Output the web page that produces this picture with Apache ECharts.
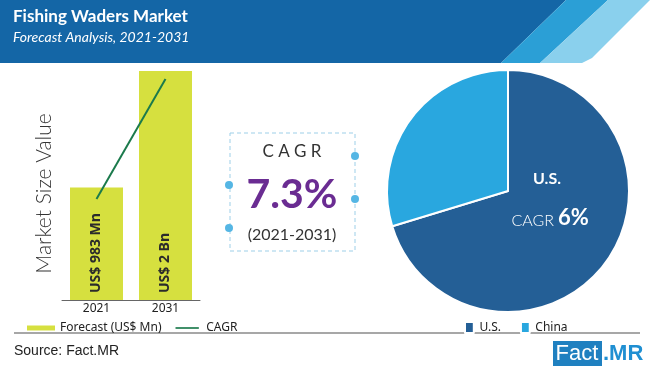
<!DOCTYPE html>
<html>
<head>
<meta charset="utf-8">
<script src="https://cdn.jsdelivr.net/npm/echarts@6/dist/echarts.min.js"></script>
<style>html,body{margin:0;padding:0;background:#fff;}#c{width:650px;height:380px;}</style>
</head>
<body>
<div id="c"></div>
<script>
// ---- data ----
var years = ['2021', '2031'];
var forecast = [983, 2000];
var barLabels = ['US$ 983 Mn', 'US$ 2 Bn'];
var cagrLine = [882, 1930];
var regions = ['U.S.', 'China'];
var regionShare = [70.3, 29.7];
var titleText = 'Fishing Waders Market';
var subtitleText = 'Forecast Analysis, 2021-2031';
var cagrValue = '7.3%';
var cagrPeriod = '(2021-2031)';
var usLabel = 'U.S.';
var usCagr = '6%';

var chart = echarts.init(document.getElementById('c'), null, {renderer: 'canvas'});
var F = 'Lato, "Open Sans", sans-serif';

var option = {
  backgroundColor: '#ffffff',
  animation: false,
  grid: {left: 62, right: 450, top: 71, bottom: 80},
  xAxis: {
    type: 'category', data: years,
    axisLine: {show: true, lineStyle: {color: '#666', width: 1}},
    axisTick: {show: false},
    axisLabel: {color: '#222', fontSize: 12, margin: 3, fontFamily: 'Noto Sans'}
  },
  yAxis: {
    type: 'value', min: 0, max: 2000,
    name: 'Market Size Value', nameLocation: 'middle', nameRotate: 90, nameGap: 7,
    nameTextStyle: {fontSize: 21, color: '#333', fontFamily: F, fontWeight: 300, padding: [0, 16, 0, 0]},
    axisLine: {show: false}, axisTick: {show: false}, axisLabel: {show: false}, splitLine: {show: false}
  },
  legend: [{
    left: 22, top: 317, itemWidth: 28, itemHeight: 5, itemGap: 14,
    textStyle: {fontSize: 12, color: '#222', fontFamily: 'Noto Sans'},
    data: [
      {name: 'Forecast (US$ Mn)', icon: 'rect'},
      {name: 'CAGR', icon: 'path://M0,0 M0,2 L28,2 L28,4 L0,4 Z M0,6'}
    ]
  }, {
    left: 459, top: 316, itemWidth: 10, itemHeight: 11, itemGap: 19,
    textStyle: {fontSize: 12, color: '#222', fontFamily: 'Noto Sans'},
    data: [{name: 'U.S.', icon: 'path://M0,0 L8,0 L8,10 L0,10 Z'}, {name: 'China', icon: 'path://M0,0 L8,0 L8,10 L0,10 Z'}]
  }],
  series: [{
    name: 'Forecast (US$ Mn)', type: 'bar', barWidth: 53,
    data: forecast.map(function (v, i) {
      return {value: v, label: {formatter: barLabels[i]}};
    }),
    itemStyle: {color: '#d6e03f'},
    label: {
      show: true, position: 'insideBottom', rotate: 90, align: 'left', verticalAlign: 'middle',
      distance: 7, fontSize: 14, fontWeight: 'bold', color: '#2b2b2b', fontFamily: 'Open Sans'
    }
  }, {
    name: 'CAGR', type: 'line', data: cagrLine, symbol: 'none',
    lineStyle: {color: '#1b7a4c', width: 2}, itemStyle: {color: '#1b7a4c'}
  }, {
    name: 'Region', type: 'pie', center: [508, 191], radius: [0, 121],
    startAngle: 90, clockwise: true,
    label: {show: false}, labelLine: {show: false},
    itemStyle: {borderColor: '#fff', borderWidth: 2},
    data: regions.map(function (r, i) {
      return {name: r, value: regionShare[i], itemStyle: {color: i === 0 ? '#245f96' : '#29a7df'}};
    })
  }],
  graphic: [
    // header band
    {type: 'polygon', z: 1, shape: {points: [[0,0],[566,0],[501,63],[0,63]]}, style: {fill: '#1466a6'}},
    {type: 'polygon', z: 1, shape: {points: [[566,0],[608,0],[540,63],[501,63]]}, style: {fill: '#2b9fd6'}},
    {type: 'polygon', z: 1, shape: {points: [[608,0],[650,0],[592,58],[582,63],[540,63]]}, style: {fill: '#8ad0ed'}},
    {type: 'text', z: 2, left: 13, top: 8, style: {text: titleText, fill: '#fff', font: 'bold 17px ' + F}},
    {type: 'text', z: 2, left: 13, top: 30, style: {text: subtitleText, fill: '#fff', font: 'italic 14px ' + F}},
    // CAGR box
    {type: 'rect', z: 2, shape: {x: 230, y: 133, width: 125, height: 118},
      style: {fill: 'none', stroke: '#9dcfe8', lineWidth: 1, lineDash: [4, 3]}},
    {type: 'circle', z: 3, shape: {cx: 355, cy: 156, r: 4}, style: {fill: '#55b6e4'}},
    {type: 'circle', z: 3, shape: {cx: 229, cy: 185, r: 4}, style: {fill: '#55b6e4'}},
    {type: 'circle', z: 3, shape: {cx: 355, cy: 199, r: 4}, style: {fill: '#55b6e4'}},
    {type: 'circle', z: 3, shape: {cx: 229, cy: 228, r: 4}, style: {fill: '#55b6e4'}},
    {type: 'text', z: 3, x: 292, y: 152, style: {text: 'C A G R', fill: '#333', font: '17px ' + F, textAlign: 'center', textVerticalAlign: 'middle'}},
    {type: 'text', z: 3, x: 292, y: 195, style: {text: cagrValue, fill: '#6a2c92', font: 'bold 41px ' + F, textAlign: 'center', textVerticalAlign: 'middle'}},
    {type: 'text', z: 3, x: 292, y: 235, style: {text: cagrPeriod, fill: '#333', font: '16px ' + F, textAlign: 'center', textVerticalAlign: 'middle'}},
    // pie annotation
    {type: 'text', z: 10, x: 547, y: 179, style: {text: usLabel, fill: '#fff', font: 'bold 16px ' + F, textAlign: 'center', textVerticalAlign: 'middle'}},
    {type: 'text', z: 10, x: 554, y: 221, style: {text: 'CAGR', fill: '#fff', font: '300 16px ' + F, textAlign: 'right', textVerticalAlign: 'middle'}},
    {type: 'text', z: 10, x: 558, y: 218, style: {text: usCagr, fill: '#fff', font: 'bold 22px ' + F, textAlign: 'left', textVerticalAlign: 'middle'}},
    // footer
    {type: 'line', z: 2, shape: {x1: 14, y1: 333, x2: 640, y2: 333}, style: {stroke: '#8a8a8a', lineWidth: 1.5}},
    {type: 'text', z: 2, left: 14, top: 344, style: {text: 'Source: Fact.MR', fill: '#222', font: '14px "Liberation Sans Narrow", "Liberation Sans", sans-serif'}},
    {type: 'rect', z: 2, shape: {x: 553, y: 341, width: 49, height: 25}, style: {fill: '#1f80c0'}},
    {type: 'text', z: 3, x: 577, y: 354, style: {text: 'Fact', fill: '#fff', font: '22px "Liberation Sans Narrow", "Liberation Sans", sans-serif', textAlign: 'center', textVerticalAlign: 'middle'}},
    {type: 'text', z: 3, x: 603, y: 354, style: {text: '.MR', fill: '#1f8fd2', font: 'bold 22px "Liberation Sans Narrow", "Liberation Sans", sans-serif', textAlign: 'left', textVerticalAlign: 'middle'}}
  ]
};
chart.setOption(option);
</script>
</body>
</html>
